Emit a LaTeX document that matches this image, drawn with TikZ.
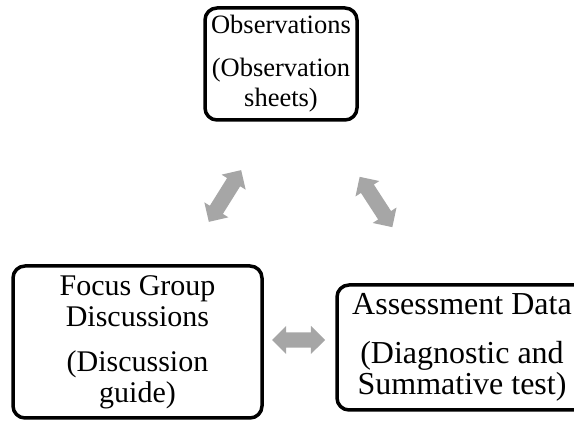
\documentclass[tikz,border=0pt]{standalone}
\usepackage{fontspec}
\setmainfont{Liberation Serif}
\usetikzlibrary{shapes.arrows}

\begin{document}
\begin{tikzpicture}[
    x=1pt, y=-1pt,
    box/.style={draw, line width=3.5pt, rounded corners=12pt, inner sep=0pt,
                align=center, font=\fontsize{30}{31}\selectfont},
    link/.style={double arrow, fill=linkgray, draw=none, inner xsep=0pt,
                 inner ysep=7.5pt, double arrow head extend=6.5pt,
                 double arrow tip angle=90}
  ]
  \definecolor{linkgray}{HTML}{A6A6A6}
  \useasboundingbox (0,0) rectangle (574,422);
  \clip (0,0) rectangle (574,422);
  % Data sources
  \node[box, minimum width=152pt, minimum height=112pt,
        font=\fontsize{26.5}{30}\selectfont] (obs) at (281,64)
    {Observations\\[13pt](Observation\\sheets)};
  \node[box, minimum width=249pt, minimum height=152pt] (fgd) at (137.5,342)
    {Focus Group\\Discussions\\[14pt](Discussion\\guide)};
  \node[box, minimum width=250pt, minimum height=125pt,
        font=\fontsize{32}{31}\selectfont] (asd) at (462,347.5)
    {Assessment Data\\[18pt](Diagnostic and\\Summative test)};
  % Links between sources
  \node[link, minimum height=61pt, rotate=58] (l1) at (225,196) {};
  \node[link, minimum height=60pt, rotate=-57] (l2) at (376,202) {};
  \node[link, minimum height=53pt] (l3) at (298.5,340) {};
\end{tikzpicture}
\end{document}
